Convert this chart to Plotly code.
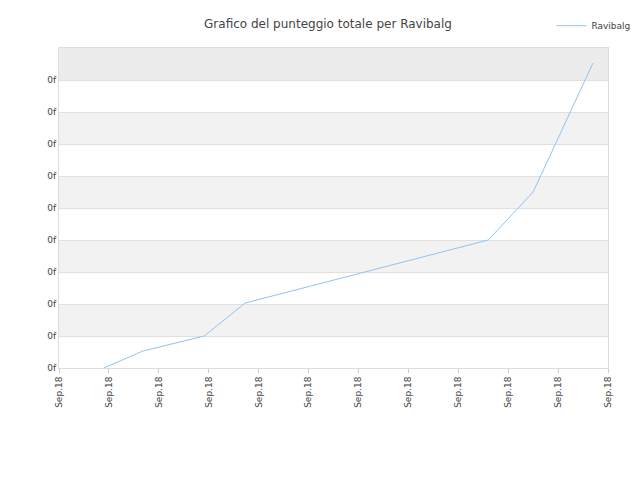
import plotly.graph_objects as go

x_pos = [0.9, 1.68, 2.91, 3.73, 8.6, 9.5, 10.7]
scores = [0, 0.53, 1, 2.03, 4, 5.5, 9.53]
x_ticks = list(range(12))
x_labels = ["Sep.18"] * 12
y_ticks = list(range(10))
y_labels = ["0f"] * 10

fig = go.Figure()
fig.add_trace(go.Scatter(x=x_pos, y=scores, mode="lines", name="Ravibalg",
                         line=dict(color="#8cc4f5", width=1)))
shapes = []
for i in range(1, 10, 2):
    shapes.append(dict(type="rect", xref="paper", yref="y", x0=0, x1=1, y0=i, y1=i + 1,
                       fillcolor="#f2f2f2" if i < 9 else "#ececec", line_width=0, layer="below"))
fig.update_layout(
    width=640, height=480, plot_bgcolor="white", paper_bgcolor="white",
    shapes=shapes,
    title=dict(text="Grafico del punteggio totale per Ravibalg", x=0.5, y=0.975,
               font=dict(size=12, color="#444", family="DejaVu Sans")),
    font=dict(family="DejaVu Sans", size=9, color="#444"),
    margin=dict(l=51, r=40, t=40, b=120, autoexpand=False),
    showlegend=True,
    legend=dict(x=1.05, y=1.115, xanchor="right", yanchor="top", font=dict(size=9),
                bgcolor="rgba(0,0,0,0)"),
    xaxis=dict(range=[0, 11], tickvals=x_ticks, ticktext=x_labels, tickangle=-90,
               showgrid=False, ticks="outside", ticklen=4, tickcolor="#ccc", automargin=False,
               showline=True, linecolor="#ddd", mirror=True, zeroline=False),
    yaxis=dict(range=[0, 10], tickvals=y_ticks, ticktext=y_labels, showgrid=True, automargin=False,
               gridcolor="#e0e0e0", showline=True, linecolor="#ddd", mirror=True,
               zeroline=False, ticks=""),
)
fig.write_html("out.html")
